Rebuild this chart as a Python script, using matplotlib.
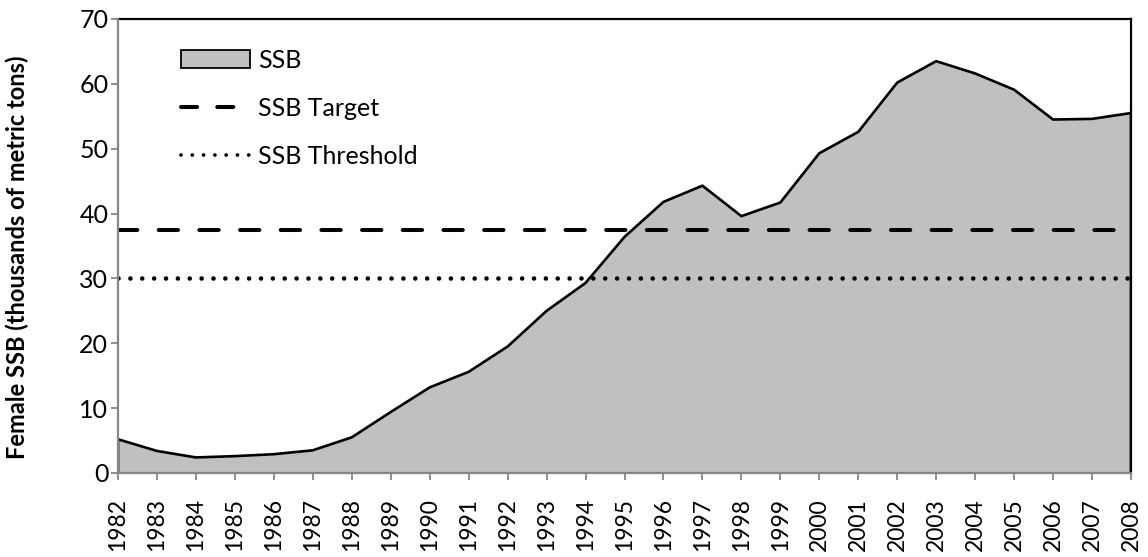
import matplotlib
matplotlib.use("Agg")
import matplotlib.pyplot as plt
from matplotlib.patches import Patch
from matplotlib.lines import Line2D

plt.rcParams['font.family'] = ['Lato', 'DejaVu Sans']

# data
years = list(range(1982, 2009))
ssb = [5.2, 3.4, 2.4, 2.6, 2.9, 3.5, 5.5, 9.4, 13.2, 15.6, 19.5, 25.0, 29.3,
       36.4, 41.8, 44.3, 39.6, 41.7, 49.3, 52.6, 60.2, 63.5, 61.6, 59.1,
       54.5, 54.6, 55.5]
ssb_target = 37.5
ssb_threshold = 30.0
yticks = [0, 10, 20, 30, 40, 50, 60, 70]

fig = plt.figure(figsize=(11.48, 5.57), dpi=100)
ax = fig.add_axes([118 / 1148, 1 - 473 / 557, 1013 / 1148, 454 / 557])

ax.fill_between(years, ssb, 0, facecolor='#c0c0c0', edgecolor='none', zorder=1)
ax.plot([years[0]] + years + [years[-1]], [0] + ssb + [0], color='black', lw=1.9, zorder=2)

ax.axhline(ssb_target, color='black', lw=2.9, dashes=(4.8, 5.3),
           dash_capstyle='round', zorder=3)
ax.axhline(ssb_threshold, color='black', lw=3.3, dashes=(0.01, 2.58),
           dash_capstyle='round', zorder=3)

ax.set_xlim(years[0], years[-1])
ax.set_ylim(0, 70)
ax.set_xticks(years)
ax.set_xticklabels([str(y) for y in years], rotation=90, fontsize=16.5)
ax.set_yticks(yticks)
ax.set_yticklabels([str(v) for v in yticks], fontsize=18)
ax.tick_params(axis='both', direction='out', length=5, width=1.3, color='#868686')
ax.tick_params(axis='x', pad=13)
ax.tick_params(axis='y', pad=2)

for s in ['left', 'bottom']:
    ax.spines[s].set_color('#868686')
    ax.spines[s].set_linewidth(1.6)
    ax.spines[s].set_zorder(4)
for s in ['top', 'right']:
    ax.spines[s].set_color('black')
    ax.spines[s].set_linewidth(1.6)

ax.set_ylabel('Female SSB (thousands of metric tons)', fontsize=17,
              fontweight='bold')
ax.yaxis.set_label_coords(-0.088, 0.476)

handles = [
    Patch(facecolor='#c0c0c0', edgecolor='black', lw=1.3),
    Line2D([], [], color='black', lw=2.9, dashes=(4.0, 5.0), dash_capstyle='round'),
    Line2D([], [], color='black', lw=2.7, dashes=(0.01, 3.0), dash_capstyle='round'),
]
ax.legend(handles, ['SSB', 'SSB Target', 'SSB Threshold'], loc='upper left',
          bbox_to_anchor=(0.062, 0.935), frameon=False, fontsize=18,
          handlelength=2.75, handleheight=0.7, handletextpad=0.35,
          labelspacing=1.0, borderpad=0, borderaxespad=0)

fig.savefig('out.png', dpi=100)
